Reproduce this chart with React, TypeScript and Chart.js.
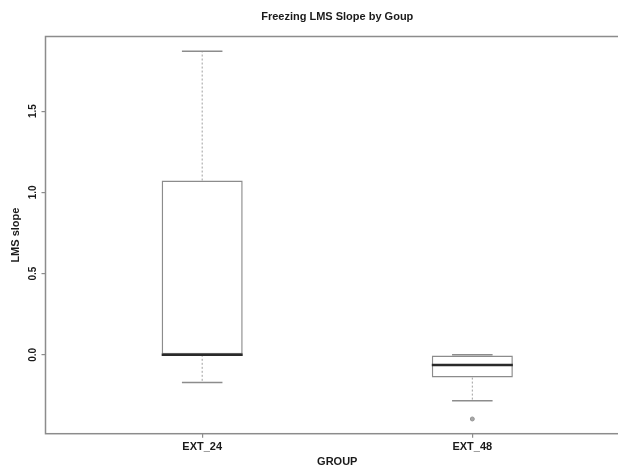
import { useEffect, useRef } from 'react';
import { Chart, registerables } from 'chart.js';

Chart.register(...registerables);

// ---- data ----
const CATEGORIES = ['EXT_24', 'EXT_48'];
const GROUP_POS = [1, 2];
const WHISKER_LOW = [-0.17, -0.283];
const Q1 = [0.0, -0.14];
const MEDIAN = [0.0, -0.062];
const Q3 = [1.073, 0.0];
const WHISKER_HIGH = [1.869, 0.0];
const OUTLIER_GROUP = [2];
const OUTLIER_VALUE = [-0.395];
const Y_TICKS = [0, 0.5, 1.0, 1.5];

// ---- axis limits / geometry ----
const Y_MIN = -0.4856;
const Y_MAX = 1.9596;
const X_MIN = 0.42;
const X_MAX = 2.58;
const BOX_HALF = 0.15;
const CAP_HALF = 0.075;

const FONT = "'Liberation Sans', Arial, Helvetica, sans-serif";
const TEXT = '#1a1a1a';
const GRAY = '#8c8c8c';

function buildDatasets(): any[] {
  const ds: any[] = [];
  ds.push({
    type: 'bar',
    data: GROUP_POS.map((x, i) => ({ x, y: [Q1[i], Q3[i]] })),
    backgroundColor: '#ffffff',
    borderColor: GRAY,
    borderWidth: 1.5,
    borderSkipped: false,
    barPercentage: BOX_HALF * 2,
    categoryPercentage: 1,
    order: 5,
  });
  const seg = (pts: { x: number; y: number }[], extra: any) => ({
    type: 'line',
    data: pts,
    pointRadius: 0,
    fill: false,
    tension: 0,
    ...extra,
  });
  GROUP_POS.forEach((x, i) => {
    // whiskers (dotted)
    ds.push(seg([{ x, y: Q1[i] }, { x, y: WHISKER_LOW[i] }], { borderColor: '#a0a0a0', borderWidth: 1, borderDash: [2, 2], order: 4 }));
    ds.push(seg([{ x, y: Q3[i] }, { x, y: WHISKER_HIGH[i] }], { borderColor: '#a0a0a0', borderWidth: 1, borderDash: [2, 2], order: 4 }));
    // caps
    ds.push(seg([{ x: x - CAP_HALF, y: WHISKER_LOW[i] }, { x: x + CAP_HALF, y: WHISKER_LOW[i] }], { borderColor: GRAY, borderWidth: 1.5, order: 3 }));
    ds.push(seg([{ x: x - CAP_HALF, y: WHISKER_HIGH[i] }, { x: x + CAP_HALF, y: WHISKER_HIGH[i] }], { borderColor: GRAY, borderWidth: 1.5, order: 3 }));
    // median
    ds.push(seg([{ x: x - BOX_HALF, y: MEDIAN[i] }, { x: x + BOX_HALF, y: MEDIAN[i] }], { borderColor: '#2a2a2a', borderWidth: 2.5, order: 1 }));
  });
  ds.push({
    type: 'line',
    data: OUTLIER_GROUP.map((g, i) => ({ x: g, y: OUTLIER_VALUE[i] })),
    showLine: false,
    pointRadius: 2,
    pointBackgroundColor: '#a8a8a8',
    pointBorderColor: '#959595',
    pointBorderWidth: 1,
    order: 2,
  });
  return ds;
}

const framePlugin = {
  id: 'frame',
  afterDraw(chart: any) {
    const { ctx, chartArea } = chart;
    const { left, top, right, bottom } = chartArea;
    ctx.save();
    ctx.strokeStyle = GRAY;
    ctx.lineWidth = 1.5;
    ctx.strokeRect(left, top, right - left, bottom - top);
    ctx.restore();
  },
};

export default function App() {
  const ref = useRef<HTMLCanvasElement>(null);
  useEffect(() => {
    const chart = new Chart(ref.current as HTMLCanvasElement, {
      type: 'bar',
      data: { datasets: buildDatasets() },
      options: {
        animation: false,
        responsive: false,
        events: [],
        layout: { padding: { left: 0, right: 45, top: 0, bottom: 0 } },
        plugins: {
          legend: { display: false },
          tooltip: { enabled: false },
          title: {
            display: true,
            text: 'Freezing LMS Slope by Goup',
            fullSize: false,
            color: TEXT,
            font: { family: FONT, size: 11, weight: 'bold' },
            padding: { top: 10, bottom: 13.3 },
          },
        },
        scales: {
          x: {
            type: 'linear',
            min: X_MIN,
            max: X_MAX,
            offset: false,
            afterBuildTicks: (s: any) => {
              s.ticks = GROUP_POS.map((v) => ({ value: v }));
            },
            afterFit: (s: any) => {
              s.height = 35.3;
            },
            grid: { drawOnChartArea: false, drawTicks: true, tickLength: 4, color: GRAY, lineWidth: 1.2, offset: false },
            border: { display: false },
            ticks: {
              autoSkip: false,
              minRotation: 0,
              maxRotation: 0,
              padding: 3,
              color: TEXT,
              font: { family: FONT, size: 11, weight: 'bold' },
              callback: (_v: any, i: number) => CATEGORIES[i],
            },
            title: {
              display: true,
              text: 'GROUP',
              color: TEXT,
              font: { family: FONT, size: 11, weight: 'bold' },
              padding: { top: 0, bottom: 0 },
            },
          },
          y: {
            type: 'linear',
            min: Y_MIN,
            max: Y_MAX,
            afterBuildTicks: (s: any) => {
              s.ticks = Y_TICKS.map((v) => ({ value: v }));
            },
            afterFit: (s: any) => {
              s.width = 45.5;
            },
            grid: { drawOnChartArea: false, drawTicks: true, tickLength: 4, color: GRAY, lineWidth: 1.2 },
            border: { display: false },
            ticks: {
              minRotation: 90,
              maxRotation: 90,
              crossAlign: 'center',
              padding: 1,
              color: TEXT,
              font: { family: FONT, size: 10, weight: 'bold' },
              callback: (v: any) => Number(v).toFixed(1),
            },
            title: {
              display: true,
              text: 'LMS slope',
              color: TEXT,
              font: { family: FONT, size: 11, weight: 'bold' },
              padding: { top: 9.5, bottom: 0 },
            },
          },
        },
      } as any,
      plugins: [framePlugin],
    } as any);
    return () => chart.destroy();
  }, []);
  return (
    <div style={{ position: 'fixed', left: 0, top: 0, width: 618, height: 469, overflow: 'hidden', background: '#fff' }}>
      <canvas ref={ref} width={674} height={469} style={{ width: 674, height: 469, display: 'block' }} />
    </div>
  );
}
